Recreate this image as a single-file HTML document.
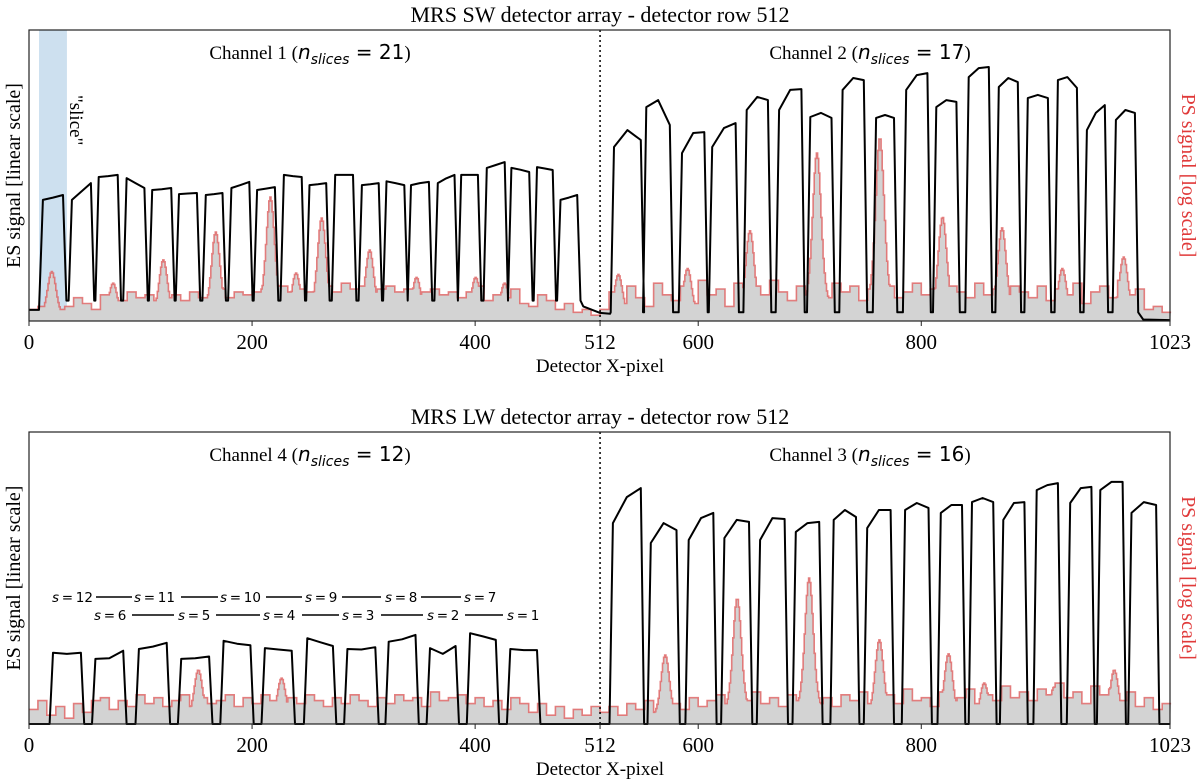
<!DOCTYPE html>
<html><head><meta charset="utf-8">
<style>
html,body{margin:0;padding:0;background:#fff;}
svg{display:block;}
.serif{font-family:"Liberation Serif",serif;}
.sans{font-family:"DejaVu Sans","Liberation Sans",sans-serif;}
</style></head>
<body>
<svg id="chart" width="1200" height="784" viewBox="0 0 1200 784" xmlns="http://www.w3.org/2000/svg">
  <g id="top"></g>
  <g id="bot"></g>
</svg>
<script>
// ---------- data ----------
const xTickVals = [0, 200, 400, 512, 600, 800, 1023];
const xTickLabels = ["0", "200", "400", "512", "600", "800", "1023"];

// Top panel: channel 1 slices (detector px start/end, ES levels left/mid/right)
const ch1Start = [11,37,61,86,109,133,157,180,203,227,250,273,297,319,341,365,386,409,431,454,475];
const ch1End   = [32,57,81,105,129,152,175,199,222,246,268,292,315,338,360,383,404,428,450,471,493];
const ch1Left  = [41.6,41.6,49.5,49.1,45,43.6,43.3,45.7,45,50.2,46.7,50.2,46.7,48,46.7,47.4,50.2,52.6,52.6,52.9,41.6];
const ch1Mid   = [42.4,44.5,49.8,47.4,45.3,43.8,43.6,46.7,45.5,49.8,47,50.2,47,47.4,47.4,49,50.2,53.6,52,52.4,42.4];
const ch1Right = [43.3,47.4,50.2,45.7,45.7,44,44,47.8,46,49.5,47.4,50.2,47.4,46.7,47.8,50.2,50.2,54.6,51.2,51.9,43.3];
// Top panel: channel 2 slices
const ch2Start = [523,552,584,611,642,671,699,728,758,785,812,841,868,894,921,947,973];
const ch2End   = [550,576,607,635,664,694,721,750,777,807,833,862,888,915,941,966,993];
const ch2Left  = [59.8,73.5,57.7,59.8,72.5,72.5,70.1,79.4,69.8,79.4,73.5,83.8,80.4,76.6,82.8,65.6,69.1];
const ch2Mid   = [65.6,75.9,64.6,66.3,77,79.4,71.5,83.5,70.8,84.5,75.9,86.9,83.5,77.7,83.8,71.5,72.5];
const ch2Right = [62.2,67.4,64.9,68,75.9,79.7,69.8,82.8,69.8,85.2,75.3,87.3,82.1,76.6,80.1,74.2,71.5];

// Bottom panel: channel 4 slices
const ch4Start = [20,58,97,135,173,210,248,284,321,358,394,430];
const ch4End   = [48,86,125,163,200,237,274,312,348,384,420,457];
const ch4Left  = [24.4,22.3,25.7,22.3,28.5,26,29.4,25.7,28.2,26,31.1,25.7];
const ch4Mid   = [24,22.5,26.5,22.5,27.5,25.5,28,25.5,29,24,30,25.3];
const ch4Right = [24.4,25.1,27.8,23.1,27,25.1,26.7,26.3,30.5,26.7,28.8,25.3];
// Bottom panel: channel 3 slices
const ch3Start = [522,556,590,622,654,686,720,750,784,816,844,872,902,932,959,987];
const ch3End   = [550,582,615,647,679,710,743,774,808,838,866,894,924,954,982,1012];
const ch3Left  = [68.8,62,63,63.7,63,65.8,69.9,67.1,73.3,72.3,76,69.9,80.1,75.7,80.1,72.3];
const ch3Mid   = [77.7,68.8,70.5,69.9,70.5,68.8,73.3,73.3,75.7,75,77.4,75.7,81.8,80.8,82.9,76];
const ch3Right = [80.8,66.4,72.3,69.2,70.2,69.2,70.9,73.3,74,75,76,76,82.5,81.2,82.9,75];

// PS background (8-px bins) and emission peaks
const psTopBg = [4,5,3,4,5,8,6,4, 9,6,7,10,8,9,7,8, 9,7,10,8,9,11,8,10, 9,10,11,9,12,10,11,10,
  11,12,10,13,11,12,10,11, 12,10,11,9,10,11,9,10, 8,10,12,7,9,8,11,6, 5,9,7,4,6,3,4,2,
  4,10,6,12,8,5,13,9, 7,12,6,14,9,11,5,13, 8,12,9,14,10,7,12,9, 11,8,13,10,12,7,11,9,
  12,8,10,13,9,11,7,12, 10,8,13,9,11,6,12,10, 8,12,7,11,9,13,6,10, 12,8,14,9,11,4,5,3];
const psTopPeakPos = [20,75,120,167,216,239,262,305,347,400,426,528,590,646,706,762.5,818.6,872,926,981];
const psTopPeakVal = [17,13,21,30.6,42.6,16.5,35.4,24.4,15,15,13,16,18,31,57.7,63,35.7,32,18,22];
const psBotBg = [5,8,3,6,2,7,4,8, 9,5,8,6,10,7,9,6, 8,10,6,9,7,8,10,6, 9,7,10,8,6,9,7,10,
  8,6,9,7,10,8,6,9, 7,10,8,9,6,11,8,9, 10,7,9,6,8,5,9,7, 4,7,3,6,2,5,3,6,
  4,6,3,7,5,8,4,6, 7,5,9,6,8,10,7,9, 8,11,7,9,6,10,8,12, 7,9,6,10,8,11,7,9,
  10,7,12,8,9,6,11,8, 9,12,7,10,8,13,9,11, 8,12,10,14,9,11,7,13, 10,12,8,11,6,9,5,7];
const psBotPeakPos = [151.4,226,570,634.5,699,762,824,856,918.7,972.6];
const psBotPeakVal = [18.5,15.7,23.6,43,50,28.8,24,14,12.7,18.5];

const sRow1 = ["12","11","10","9","8","7"];
const sRow2 = ["6","5","4","3","2","1"];
const sRow1X = [52,134,220,305,385,464];
const sRow2X = [94,178,263,342,427,507];
const sRow1Lines = [[96,132],[181,218],[266,302],[342,381],[421,461]];
const sRow2Lines = [[132,174],[216,260],[302,339],[381,423],[465,503]];

// ---------- geometry ----------
const X0 = 29, X1 = 1170;
function xs(d){ return X0 + d*(X1-X0)/1023; }
const panels = {
  top:{g:document.getElementById('top'), y0:30, y1:321, scale:2.91},
  bot:{g:document.getElementById('bot'), y0:432, y1:724, scale:2.92}
};
function ys(p, v){ return p.y1 - v*p.scale; }
const NS = "http://www.w3.org/2000/svg";
function mk(tag, attrs, parent){
  const e = document.createElementNS(NS, tag);
  for (const k in attrs) e.setAttribute(k, attrs[k]);
  parent.appendChild(e); return e;
}

function esPoints(pts, s, e, l, m, r, dip){
  for (let i=0;i<s.length;i++){
    pts.push([s[i]-1.5, dip]);
    pts.push([s[i]+1.5, l[i]]);
    pts.push([(s[i]+e[i])/2, m[i]]);
    pts.push([e[i]-1.5, r[i]]);
    pts.push([e[i]+1.5, dip]);
  }
}
function psValues(bg, pos, val){
  const out = [];
  for (let d=0; d<1024; d++){
    let v = bg[Math.min(bg.length-1, Math.floor(d/8))];
    for (let k=0;k<pos.length;k++){
      const dd = d - pos[k];
      const pk = val[k]*(0.75*Math.exp(-dd*dd/(2*3.5*3.5)) + 0.25*Math.exp(-dd*dd/(2*9*9)));
      if (pk > v) v = pk;
    }
    out.push(v);
  }
  return out;
}

function drawPanel(p, key, title, chL, chR, esPts, ps, band){
  const g = p.g;
  if (band){
    const r = mk('rect',{x:xs(9), y:p.y0, width:xs(34)-xs(9), height:p.y1-p.y0, fill:'#cde0ef'}, g);
    
    
  }
  let d = `M${xs(0)},${p.y1}`;
  for (let i=0;i<ps.length;i++){
    d += ` L${xs(i).toFixed(1)},${ys(p,ps[i]).toFixed(1)} L${xs(i+1).toFixed(1)},${ys(p,ps[i]).toFixed(1)}`;
  }
  const fillD = d + ` L${xs(1023)},${p.y1} Z`;
  const f = mk('path',{d:fillD, fill:'#d3d3d3', stroke:'none'}, g);
  
  
  let ld = '';
  for (let i=0;i<ps.length;i++){
    ld += (i?' L':'M') + `${xs(i).toFixed(1)},${ys(p,ps[i]).toFixed(1)} L${xs(i+1).toFixed(1)},${ys(p,ps[i]).toFixed(1)}`;
  }
  const l = mk('path',{d:ld, fill:'none', stroke:'#e06060', 'stroke-opacity':0.8, 'stroke-width':1.6}, g);
  
  
  const es = mk('polyline',{points: esPts.map(q=>xs(q[0]).toFixed(1)+','+ys(p,q[1]).toFixed(1)).join(' '),
    fill:'none', stroke:'#000', 'stroke-width':2, 'stroke-linejoin':'round'}, g);
  
  
  const dv = mk('line',{x1:xs(512), x2:xs(512), y1:p.y0, y2:p.y1, stroke:'#000', 'stroke-width':1.5, 'stroke-dasharray':'2,3'}, g);
  
  
  const fr = mk('rect',{x:X0, y:p.y0, width:X1-X0, height:p.y1-p.y0, fill:'none', stroke:'#222', 'stroke-width':1.2}, g);
  
  
  for (let i=0;i<xTickVals.length;i++){
    const x = xs(xTickVals[i]);
    const t = mk('line',{x1:x,x2:x,y1:p.y1,y2:p.y1+5,stroke:'#222','stroke-width':1}, g);
    
    
    const tl = mk('text',{x:x, y:p.y1+28, 'text-anchor':'middle', 'font-size':21, class:'serif'}, g);
    tl.textContent = xTickLabels[i];
    
    
  }
  const xt = mk('text',{x:600, y:p.y1+51, 'text-anchor':'middle', 'font-size':19, class:'serif'}, g);
  xt.textContent = 'Detector X-pixel';
  
  
  const tt = mk('text',{x:600, y:p.y0-8, 'text-anchor':'middle', 'font-size':22, class:'serif'}, g);
  tt.textContent = title;
  
  
  const cy = (p.y0+p.y1)/2;
  const yl = mk('text',{x:20, y:cy, 'text-anchor':'middle', 'font-size':20, class:'serif', transform:`rotate(-90 20 ${cy})`}, g);
  yl.textContent = 'ES signal [linear scale]';
  
  
  const yr = mk('text',{x:1182, y:cy, 'text-anchor':'middle', 'font-size':20, fill:'#e03a3a', class:'serif', transform:`rotate(90 1182 ${cy})`}, g);
  yr.textContent = 'PS signal [log scale]';
  
  
  [[310,chL[0],chL[1]],[870,chR[0],chR[1]]].forEach((c,i)=>{
    const t = mk('text',{x:c[0], y:p.y0+29, 'text-anchor':'middle', 'font-size':19, class:'serif'}, g);
    
    
    t.innerHTML = `Channel ${c[1]} (<tspan class="sans" font-style="italic" font-size="20">n</tspan><tspan class="sans" font-style="italic" font-size="14" dy="5">slices</tspan><tspan class="sans" font-size="20" dy="-5"> = ${c[2]}</tspan>)`;
  });
}

const topPts = [[0,3.8],[9,3.8]];
esPoints(topPts, ch1Start, ch1End, ch1Left, ch1Mid, ch1Right, 7);
topPts.splice(2,1);
topPts.push([497,5],[512,2.8],[521,2.5]);
esPoints(topPts, ch2Start, ch2End, ch2Left, ch2Mid, ch2Right, 3);
topPts.push([999,0.5],[1023,0.3]);
drawPanel(panels.top, 'sw', 'MRS SW detector array - detector row 512', ['1','21'], ['2','17'], topPts,
  psValues(psTopBg, psTopPeakPos, psTopPeakVal), true);

const botPts = [[0,0]];
esPoints(botPts, ch4Start, ch4End, ch4Left, ch4Mid, ch4Right, 0);
esPoints(botPts, ch3Start, ch3End, ch3Left, ch3Mid, ch3Right, 0);
botPts.push([1023,0]);
drawPanel(panels.bot, 'lw', 'MRS LW detector array - detector row 512', ['4','12'], ['3','16'], botPts,
  psValues(psBotBg, psBotPeakPos, psBotPeakVal), false);

const sl = mk('text',{x:70, y:95, 'font-size':19, class:'serif', transform:'rotate(90 70 95)'}, panels.top.g);
sl.textContent = '"slice"';



const g2 = panels.bot.g;
function sRow(labels, xsArr, lines, y){
  for (let i=0;i<labels.length;i++){
    const t = mk('text',{x:xsArr[i], y:y, 'font-size':13.5, class:'sans'}, g2);
    t.innerHTML = `<tspan font-style="italic">s</tspan>\u2009=\u2009${labels[i]}`;
    
    
  }
  for (const seg of lines){
    const ln = mk('line',{x1:seg[0], x2:seg[1], y1:y-5, y2:y-5, stroke:'#000','stroke-width':1.6}, g2);
    
    
  }
}
sRow(sRow1, sRow1X, sRow1Lines, 602);
sRow(sRow2, sRow2X, sRow2Lines, 620);
</script>
</body></html>
